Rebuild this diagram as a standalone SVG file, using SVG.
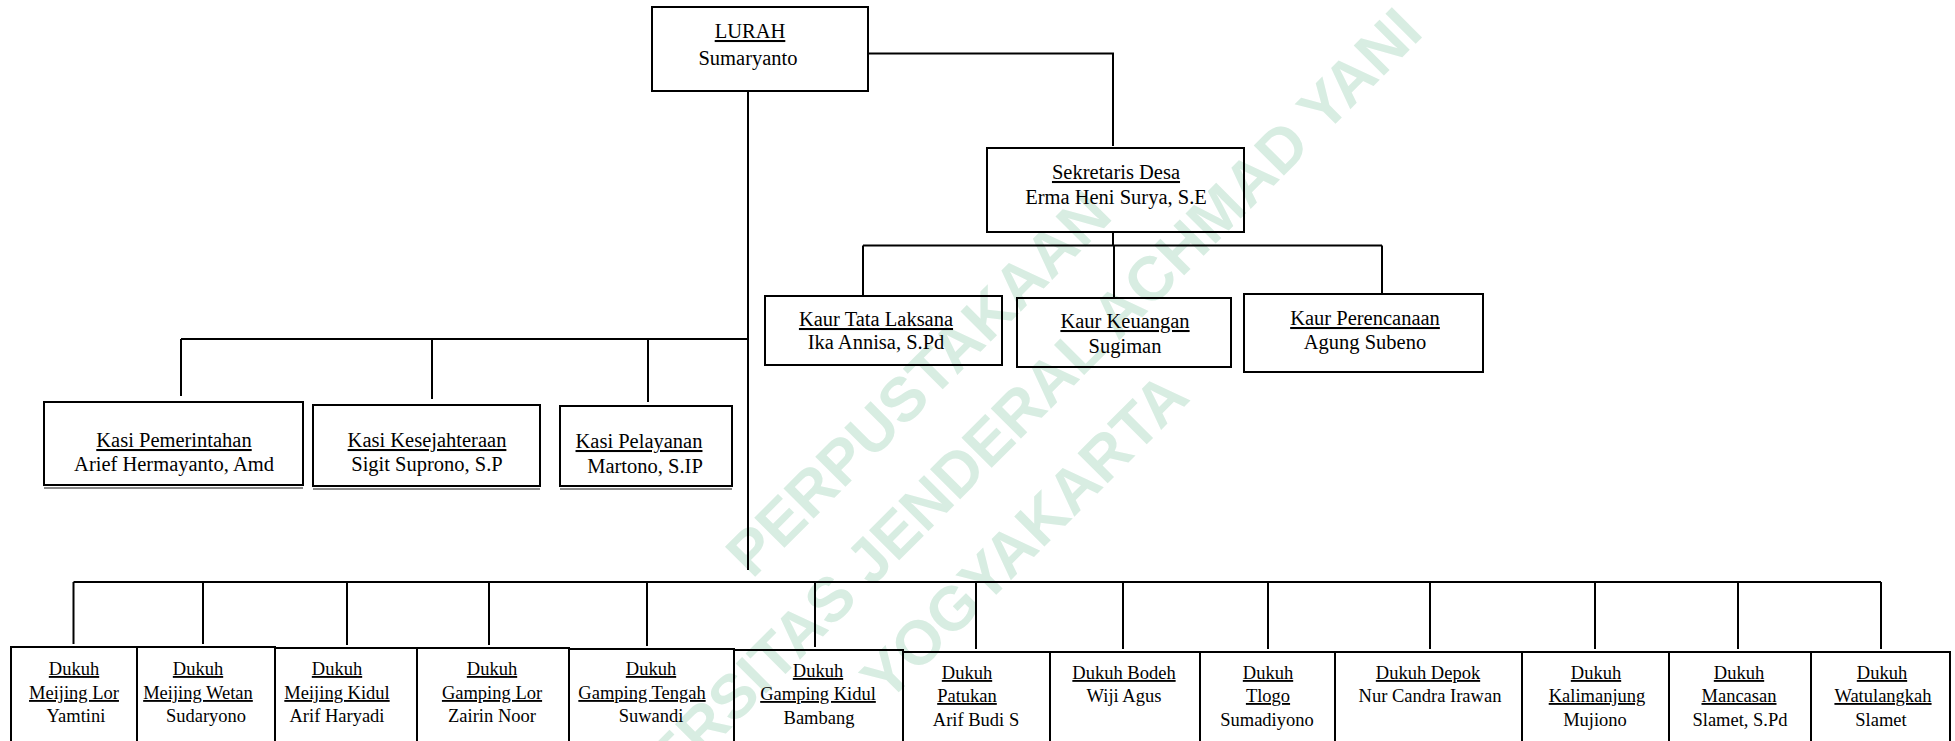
<svg xmlns="http://www.w3.org/2000/svg" width="1955" height="741" viewBox="0 0 1955 741">
<style>
.bg{fill:#ffffff}
.box{fill:none;stroke:#000;stroke-width:2}
.shadow{fill:none;stroke:#8a8a8a;stroke-width:2}
.ln{fill:none;stroke:#000;stroke-width:2}
.t{font-family:"Liberation Serif","Times New Roman",serif;font-size:20.5px;fill:#000;text-anchor:middle}
.d{font-family:"Liberation Serif","Times New Roman",serif;font-size:18.5px;fill:#000;text-anchor:middle}
.u{text-decoration:underline}
.wm{font-family:"Liberation Sans",Arial,sans-serif;font-weight:bold;font-size:62px;fill:#d8ede2;text-anchor:middle}
</style>
<rect class="bg" x="0" y="0" width="1955" height="741"/>
<g id="watermark" transform="rotate(-45)">
<text class="wm" x="378" y="942">PERPUSTAKAAN</text>
<text class="wm" x="983" y="1032" style="text-anchor:end">UNIVERSITAS JENDERAL ACHMAD YANI</text>
<text class="wm" x="345" y="1125">YOGYAKARTA</text>
</g>
<g id="connectors">
<path class="ln" d="M868,53.5 H1113 V146"/>
<path class="ln" d="M1113,232 V245.5"/>
<path class="ln" d="M863,245.5 H1382"/>
<path class="ln" d="M863,245.5 V296"/>
<path class="ln" d="M1114,245.5 V298"/>
<path class="ln" d="M1382,245.5 V294"/>
<path class="ln" d="M748,91 V570"/>
<path class="ln" d="M181,339 H748"/>
<path class="ln" d="M181,339 V396"/>
<path class="ln" d="M432,339 V399"/>
<path class="ln" d="M648,339 V402"/>
<path class="ln" d="M73.5,582 H1881"/>
<path class="ln" d="M73.5,582 V644"/>
<path class="ln" d="M203,582 V644"/>
<path class="ln" d="M347,582 V645"/>
<path class="ln" d="M489,582 V645"/>
<path class="ln" d="M647,582 V646"/>
<path class="ln" d="M815,582 V647"/>
<path class="ln" d="M976,582 V649"/>
<path class="ln" d="M1123,582 V649"/>
<path class="ln" d="M1268,582 V649"/>
<path class="ln" d="M1430,582 V649"/>
<path class="ln" d="M1595,582 V649"/>
<path class="ln" d="M1738,582 V649"/>
<path class="ln" d="M1881,582 V649"/>
</g>
<g id="lurah">
<rect class="box" x="652" y="7" width="216" height="84"/>
<text class="t u" x="750" y="38">LURAH</text>
<text class="t" x="748" y="65">Sumaryanto</text>
</g>
<g id="sekretaris">
<rect class="box" x="987" y="148" width="257" height="84"/>
<text class="t u" x="1116" y="179">Sekretaris Desa</text>
<text class="t" x="1116" y="204">Erma Heni Surya, S.E</text>
</g>
<g id="kaur-tata-laksana">
<rect class="box" x="765" y="296" width="237" height="69"/>
<text class="t u" x="876" y="326">Kaur Tata Laksana</text>
<text class="t" x="876" y="349">Ika Annisa, S.Pd</text>
</g>
<g id="kaur-keuangan">
<rect class="box" x="1017" y="298" width="214" height="69"/>
<text class="t u" x="1125" y="328">Kaur Keuangan</text>
<text class="t" x="1125" y="353">Sugiman</text>
</g>
<g id="kaur-perencanaan">
<rect class="box" x="1244" y="294" width="239" height="78"/>
<text class="t u" x="1365" y="325">Kaur Perencanaan</text>
<text class="t" x="1365" y="349">Agung Subeno</text>
</g>
<g id="kasi-pemerintahan">
<rect class="box" x="44" y="402" width="259" height="83"/>
<path class="shadow" d="M44,488 H303"/>
<text class="t u" x="174" y="447">Kasi Pemerintahan</text>
<text class="t" x="174" y="471">Arief Hermayanto, Amd</text>
</g>
<g id="kasi-kesejahteraan">
<rect class="box" x="313" y="405" width="227" height="81"/>
<path class="shadow" d="M313,489 H540"/>
<text class="t u" x="427" y="447">Kasi Kesejahteraan</text>
<text class="t" x="427" y="471">Sigit Suprono, S.P</text>
</g>
<g id="kasi-pelayanan">
<rect class="box" x="560" y="406" width="172" height="80"/>
<path class="shadow" d="M560,489 H732"/>
<text class="t u" x="639" y="448">Kasi Pelayanan</text>
<text class="t" x="645" y="473">Martono, S.IP</text>
</g>
<g id="dukuh-meijing-lor">
<rect class="box" x="11" y="647" width="126" height="100"/>
<text class="d u" x="74" y="675">Dukuh</text>
<text class="d u" x="74" y="699">Meijing Lor</text>
<text class="d" x="76" y="722">Yamtini</text>
</g>
<g id="dukuh-meijing-wetan">
<rect class="box" x="137" y="647" width="138" height="100"/>
<text class="d u" x="198" y="675">Dukuh</text>
<text class="d u" x="198" y="699">Meijing Wetan</text>
<text class="d" x="206" y="722">Sudaryono</text>
</g>
<g id="dukuh-meijing-kidul">
<rect class="box" x="275" y="648" width="142" height="100"/>
<text class="d u" x="337" y="675">Dukuh</text>
<text class="d u" x="337" y="699">Meijing Kidul</text>
<text class="d" x="337" y="722">Arif Haryadi</text>
</g>
<g id="dukuh-gamping-lor">
<rect class="box" x="417" y="648" width="152" height="100"/>
<text class="d u" x="492" y="675">Dukuh</text>
<text class="d u" x="492" y="699">Gamping Lor</text>
<text class="d" x="492" y="722">Zairin Noor</text>
</g>
<g id="dukuh-gamping-tengah">
<rect class="box" x="569" y="649" width="165" height="100"/>
<text class="d u" x="651" y="675">Dukuh</text>
<text class="d u" x="642" y="699">Gamping Tengah</text>
<text class="d" x="651" y="722">Suwandi</text>
</g>
<g id="dukuh-gamping-kidul">
<rect class="box" x="734" y="650" width="169" height="100"/>
<text class="d u" x="818" y="677">Dukuh</text>
<text class="d u" x="818" y="700">Gamping Kidul</text>
<text class="d" x="819" y="724">Bambang</text>
</g>
<g id="dukuh-patukan">
<rect class="box" x="903" y="652" width="147" height="100"/>
<text class="d u" x="967" y="679">Dukuh</text>
<text class="d u" x="967" y="702">Patukan</text>
<text class="d" x="976" y="726">Arif Budi S</text>
</g>
<g id="dukuh-bodeh">
<rect class="box" x="1050" y="652" width="150" height="100"/>
<text class="d u" x="1124" y="679">Dukuh Bodeh</text>
<text class="d" x="1124" y="702">Wiji Agus</text>
</g>
<g id="dukuh-tlogo">
<rect class="box" x="1200" y="652" width="135" height="100"/>
<text class="d u" x="1268" y="679">Dukuh</text>
<text class="d u" x="1268" y="702">Tlogo</text>
<text class="d" x="1267" y="726">Sumadiyono</text>
</g>
<g id="dukuh-depok">
<rect class="box" x="1335" y="652" width="187" height="100"/>
<text class="d u" x="1428" y="679">Dukuh Depok</text>
<text class="d" x="1430" y="702">Nur Candra Irawan</text>
</g>
<g id="dukuh-kalimanjung">
<rect class="box" x="1522" y="652" width="147" height="100"/>
<text class="d u" x="1596" y="679">Dukuh</text>
<text class="d u" x="1597" y="702">Kalimanjung</text>
<text class="d" x="1595" y="726">Mujiono</text>
</g>
<g id="dukuh-mancasan">
<rect class="box" x="1669" y="652" width="142" height="100"/>
<text class="d u" x="1739" y="679">Dukuh</text>
<text class="d u" x="1739" y="702">Mancasan</text>
<text class="d" x="1740" y="726">Slamet, S.Pd</text>
</g>
<g id="dukuh-watulangkah">
<rect class="box" x="1811" y="652" width="139" height="100"/>
<text class="d u" x="1882" y="679">Dukuh</text>
<text class="d u" x="1883" y="702">Watulangkah</text>
<text class="d" x="1881" y="726">Slamet</text>
</g>
</svg>
